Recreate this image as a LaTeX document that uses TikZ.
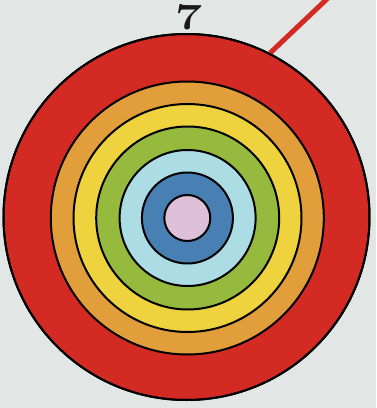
\documentclass[tikz,border=0pt]{standalone}
\usepackage{fontspec}
\usepackage{graphicx}
\usetikzlibrary{calc}
\definecolor{bg}{RGB}{226,230,228}
\definecolor{cred}{RGB}{212,42,36}
\definecolor{corange}{RGB}{226,158,58}
\definecolor{cyellow}{RGB}{238,210,62}
\definecolor{cgreen}{RGB}{150,186,62}
\definecolor{clblue}{RGB}{172,220,228}
\definecolor{cblue}{RGB}{72,128,180}
\definecolor{cpink}{RGB}{222,192,216}
\begin{document}
\begin{tikzpicture}[x=1pt,y=-1pt,
  ring/.style={circle,draw=black,line width=2pt,inner sep=0pt,minimum size=#1},
  pointer/.style={draw=cred,line width=5pt}]
\fill[bg] (0,0) rectangle (376,408);
\useasboundingbox (0,0) rectangle (376,408);
\coordinate (lineend) at (328,-2);
\node[ring=366pt,fill=cred] (outer) at (186.5,217) {};
\draw[pointer] (outer.63) -- (lineend);
\draw[black,line width=2pt] (186.5,217) circle[radius=183];
\node[ring=273pt,fill=corange] (orange) at (187.3,218) {};
\node[ring=228pt,fill=cyellow] (yellow) at (187.5,218) {};
\node[ring=183pt,fill=cgreen] (green) at (187.7,218) {};
\node[ring=136pt,fill=clblue] (lblue) at (187.6,218) {};
\node[ring=91pt,fill=cblue] (blue) at (187.4,218) {};
\node[ring=46pt,fill=cpink] (pink) at (187.3,218) {};
\node[inner sep=0pt,anchor=base,text=black!90] (seven) at (189.5,29) {\scalebox{1.3}[1]{\fontsize{37pt}{40pt}\selectfont\bfseries 7}};
\end{tikzpicture}
\end{document}
